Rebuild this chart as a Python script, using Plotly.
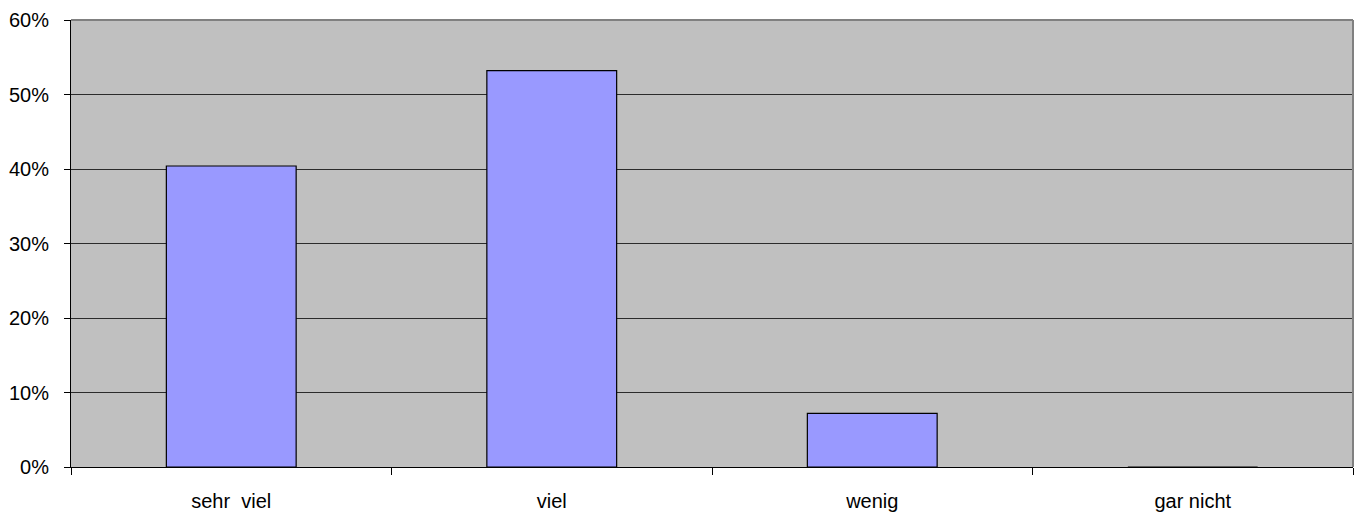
import plotly.graph_objects as go

# Survey answers and their shares (percent)
categories = ["sehr  viel", "viel", "wenig", "gar nicht"]
shares = [40.4, 53.2, 7.2, 0.0]
tick_values = [0, 10, 20, 30, 40, 50, 60]
tick_labels = [f"{v}%" for v in tick_values]

fig = go.Figure(
    go.Bar(
        x=categories,
        y=shares,
        width=0.405,
        marker=dict(color="#9999FF", line=dict(color="#000000", width=1.2)),
        hoverinfo="x+y",
    )
)

font = dict(family="Liberation Sans, Arial, sans-serif", size=20, color="#000000")

fig.update_layout(
    width=1362,
    height=522,
    margin=dict(l=68, r=9, t=18, b=55),
    paper_bgcolor="#FFFFFF",
    plot_bgcolor="#C0C0C0",
    font=font,
    showlegend=False,
    bargap=0.595,
    xaxis=dict(
        type="category",
        range=[-0.5, 3.5],
        showline=True,
        linecolor="#000000",
        linewidth=1,
        ticks="outside",
        tickson="boundaries",
        ticklen=7,
        tickcolor="#000000",
        showgrid=False,
        ticklabelstandoff=16,
        fixedrange=True,
    ),
    yaxis=dict(
        range=[0, 60],
        tickvals=tick_values,
        ticktext=tick_labels,
        showline=True,
        linecolor="#000000",
        linewidth=1,
        ticks="outside",
        ticklen=6,
        tickcolor="#000000",
        showgrid=True,
        gridcolor="#2b2b2b",
        gridwidth=1,
        zeroline=False,
        ticklabelstandoff=11,
        fixedrange=True,
    ),
    shapes=[
        # grey frame along the top and right edge of the plot area
        dict(type="line", xref="paper", yref="paper", x0=0, x1=1, y0=1, y1=1,
             line=dict(color="#808080", width=2), layer="above"),
        dict(type="line", xref="paper", yref="paper", x0=1, x1=1, y0=0, y1=1,
             line=dict(color="#808080", width=2), layer="above"),
    ],
)

fig.write_html("out.html")
